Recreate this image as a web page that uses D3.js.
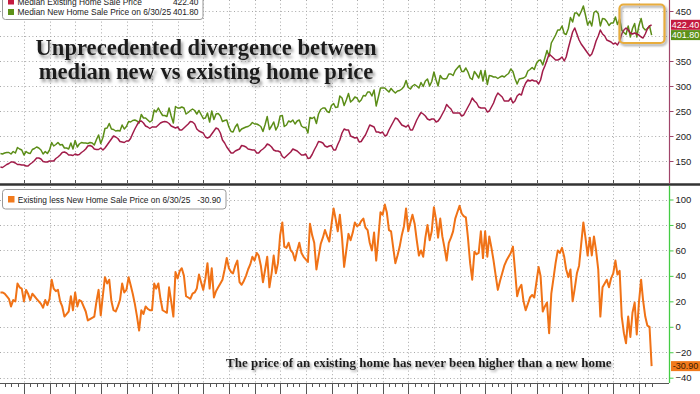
<!DOCTYPE html>
<html><head><meta charset="utf-8">
<script src="https://cdn.jsdelivr.net/npm/d3@7"></script>
<style>
html,body{margin:0;padding:0;background:#fff;}
svg{display:block;}
</style></head><body>
<svg id="c" width="700" height="394"></svg>
<script>
// Monthly, month-end, Jan 2000 .. Jun 2025 (thousands of USD)
const existingPrice = [
138,137,140,143,145,148,148,146,143,143,142,142,
140,140,144,147,151,156,156,154,149,148,148,150,
150,150,155,158,162,167,168,166,162,162,161,164,
162,163,167,170,174,180,181,179,174,173,173,176,
172,176,182,188,194,200,198,195,189,188,187,190,
190,195,205,214,222,229,230,226,220,218,215,218,
218,218,222,226,228,229,228,225,220,218,216,218,
212,212,216,220,224,229,228,224,214,210,208,206,
198,196,198,204,210,216,214,206,192,186,178,172,
166,166,170,172,174,181,180,178,174,173,172,172,
166,166,171,174,178,184,182,178,172,170,170,168,
159,156,160,164,168,174,172,170,166,162,162,164,
155,156,163,172,180,189,188,186,180,178,180,181,
172,172,183,192,206,214,212,212,200,198,196,197,
188,189,196,202,212,222,220,218,208,208,206,208,
200,202,212,220,228,236,234,228,222,220,218,222,
212,212,222,232,240,247,244,240,234,232,234,234,
228,230,236,244,252,263,258,254,246,246,246,246,
240,242,250,258,266,276,270,266,258,256,256,256,
248,250,258,266,278,286,282,278,270,270,270,276,
266,270,280,284,282,296,306,312,310,312,310,310,
304,312,330,340,352,364,360,356,352,352,354,358,
350,358,376,392,408,416,404,392,384,378,372,366,
360,364,376,390,400,412,404,400,392,390,388,384,
386,382,390,404,412,416,412,406,404,406,404,402,
398,396,404,414,420,422.4
];
const newPrice = [
165,164,166,167,167,164,169,166,177,174,172,162,
169,166,165,173,175,178,176,172,164,169,165,172,
187,180,183,187,182,183,176,176,174,186,174,191,
178,184,187,186,186,185,187,186,182,193,202,185,
197,215,216,225,214,213,210,211,210,222,214,219,
229,228,231,232,230,226,243,236,236,232,228,231,
252,248,256,248,241,241,239,256,240,226,259,256,
256,258,256,244,247,251,254,251,244,251,243,235,
236,246,228,250,233,244,245,240,229,231,232,218,
209,208,218,224,209,214,216,218,219,222,227,224,
224,222,219,209,223,239,213,220,228,212,220,240,
241,219,222,230,228,232,224,230,232,220,217,217,
206,237,235,238,225,244,253,256,256,249,247,261,
265,257,258,280,276,261,272,285,268,272,278,276,
268,272,281,280,288,288,280,292,260,278,296,296,
296,292,288,295,290,286,290,291,294,299,311,297,
294,300,303,300,296,307,299,310,314,300,309,328,
312,300,321,315,314,315,324,324,321,331,336,341,
329,329,336,328,316,313,329,323,316,331,310,331,
303,321,320,318,318,315,318,320,318,322,325,334,
329,315,304,314,315,316,319,330,333,337,333,345,
351,352,342,356,371,359,386,394,402,412,412,420,
405,403,415,437,428,446,446,440,449,460,442,422,
430,420,447,450,445,420,435,434,429,421,426,426,
438,423,434,412,407,403,420,398,415,425,398,421,
435,417,412,415,420,401.8
];
const spreadPrice = [
27,27,26,24,22,16,21,20,34,31,30,20,
29,26,21,26,24,22,20,18,15,21,17,22,
37,30,28,29,20,16,8,10,12,24,13,27,
16,21,20,16,12,5,6,7,8,20,29,9,
25,39,34,37,20,13,12,16,21,34,27,29,
39,33,26,18,8,-3,13,10,16,14,13,13,
34,30,34,22,13,12,11,31,20,8,43,38,
44,46,40,24,23,22,26,27,30,41,35,29,
38,50,30,46,23,28,31,34,37,45,54,46,
43,42,48,52,35,33,36,40,45,49,55,52,
58,56,48,35,45,55,31,42,56,42,50,72,
82,63,62,66,60,58,52,60,66,58,55,53,
51,81,72,66,45,55,65,70,76,71,67,80,
93,85,75,88,70,47,60,73,68,74,82,79,
80,83,85,78,76,66,60,74,52,70,90,88,
96,90,76,75,62,50,56,63,72,79,93,75,
82,88,81,68,56,60,55,70,80,68,75,94,
84,70,85,71,62,52,66,70,75,85,90,95,
89,87,86,70,50,37,59,57,58,75,54,75,
55,71,62,52,40,29,36,42,48,52,55,58,
63,45,24,30,33,20,13,18,23,25,23,35,
47,40,12,16,19,-5,26,38,50,60,58,62,
55,45,39,45,20,30,42,48,65,82,70,56,
70,56,71,60,45,8,31,34,37,31,38,42,
52,41,44,8,-5,-13,8,-8,11,19,-6,19,
37,21,8,1,0,-30.9
];
const topGridValues = [150,200,250,300,350,400,450];
const topTickLabels = [150,200,250,300,350,450];
const bottomTicks = [-40,-20,0,20,40,60,80,100];
const legendTopNames = ["Median Existing Home Sale Price","Median New Home Sale Price on 6/30/25"];
const legendTopValues = ["422.40","401.80"];
const legendBottomName = "Existing less New Home Sale Price on 6/30/25";
const legendBottomValue = "-30.90";
const titleLines = ["Unprecedented divergence between","median new vs existing home price"];
const noteText = "The price of an existing home has never been higher than a new home";

const C = {red:"#a11c49", green:"#5b8d17", orange:"#f07216",
           redBox:"#c41a3f", greenBox:"#5d9118", orangeBox:"#f27a1c",
           grid:"#a8a8a8", text:"#222"};

const svg = d3.select("#c");
const dates = existingPrice.map((_, i) => new Date(2000, i + 1, 0));
const x = d3.scaleTime().domain([new Date(2001,0,1), new Date(2025,0,1)]).range([24, 639]);
const yTop = d3.scaleLinear().domain([150,450]).range([161,11]);
const yBot = d3.scaleLinear().domain([-40,100]).range([377.7,199.5]);
const AX = 669;

const defs = svg.append("defs");
const f = defs.append("filter").attr("id","sh").attr("x","-10%").attr("y","-30%").attr("width","120%").attr("height","170%");
f.append("feDropShadow").attr("dx",2).attr("dy",3).attr("stdDeviation",1.6).attr("flood-color","#777").attr("flood-opacity",0.75);
const f2 = defs.append("filter").attr("id","sh2").attr("x","-10%").attr("y","-40%").attr("width","120%").attr("height","200%");
f2.append("feDropShadow").attr("dx",1.5).attr("dy",2).attr("stdDeviation",1.2).attr("flood-color","#777").attr("flood-opacity",0.7);
defs.append("clipPath").attr("id","clipTop").append("rect").attr("x",0).attr("y",0).attr("width",AX).attr("height",183);
defs.append("clipPath").attr("id","clipBot").append("rect").attr("x",0).attr("y",186).attr("width",AX).attr("height",197);

// grid
const years = d3.timeYear.range(new Date(2001,0,1), new Date(2025,0,2));
const g = svg.append("g").attr("stroke",C.grid).attr("stroke-width",1).attr("stroke-dasharray","1,2.6");
years.forEach(d => {
  const xx = Math.round(x(d)) + 0.5;
  g.append("line").attr("x1",xx).attr("x2",xx).attr("y1",0).attr("y2",183);
  g.append("line").attr("x1",xx).attr("x2",xx).attr("y1",187).attr("y2",383);
});
topGridValues.forEach(v => { const yy = Math.round(yTop(v))+0.5;
  g.append("line").attr("x1",0).attr("x2",AX).attr("y1",yy).attr("y2",yy); });
bottomTicks.forEach(v => { const yy = Math.round(yBot(v))+0.5;
  g.append("line").attr("x1",0).attr("x2",AX).attr("y1",yy).attr("y2",yy); });

// lines
const lineTop = (arr) => d3.line().x((d,i)=>x(dates[i])).y(d=>yTop(d))(arr);
const lineBot = d3.line().x((d,i)=>x(dates[i])).y(d=>yBot(d));
const gt = svg.append("g").attr("clip-path","url(#clipTop)");
gt.append("path").attr("d", lineTop(newPrice)).attr("fill","none").attr("stroke",C.green).attr("stroke-width",1.5).attr("stroke-linejoin","round");
gt.append("path").attr("d", lineTop(existingPrice)).attr("fill","none").attr("stroke",C.red).attr("stroke-width",1.5).attr("stroke-linejoin","round");
svg.append("g").attr("clip-path","url(#clipBot)").append("path").attr("d", lineBot(spreadPrice))
  .attr("fill","none").attr("stroke",C.orange).attr("stroke-width",2).attr("stroke-linejoin","round");

// separators and x ticks
svg.append("line").attr("x1",0).attr("x2",700).attr("y1",184.5).attr("y2",184.5).attr("stroke","#333").attr("stroke-width",2.4);
svg.append("line").attr("x1",0).attr("x2",AX).attr("y1",383.5).attr("y2",383.5).attr("stroke","#555").attr("stroke-width",1);
const quarters = d3.timeMonth.every(3).range(new Date(2000,0,1), new Date(2025,6,2));
quarters.forEach(d => {
  const xx = Math.round(x(d)) + 0.5;
  const major = d.getMonth() === 0;
  if (xx < 0) return;
  svg.append("line").attr("x1",xx).attr("x2",xx).attr("y1",384).attr("y2", major ? 394 : 387).attr("stroke","#555");
  if (major) svg.append("line").attr("x1",xx).attr("x2",xx).attr("y1",180).attr("y2",183).attr("stroke","#555");
});

// right axes
svg.append("line").attr("x1",AX+0.5).attr("x2",AX+0.5).attr("y1",0).attr("y2",183.5).attr("stroke","#a0456a").attr("stroke-width",1.2);
svg.append("line").attr("x1",AX+0.5).attr("x2",AX+0.5).attr("y1",186).attr("y2",383).attr("stroke","#44cc44").attr("stroke-width",1.3);
const axT = svg.append("g").attr("transform",`translate(${AX+0.5},0)`)
  .call(d3.axisRight(yTop).tickValues(topTickLabels).tickSize(4).tickPadding(2).tickSizeOuter(0).tickFormat(d3.format("d")));
axT.select(".domain").remove();
axT.selectAll("line").attr("stroke","#a0456a");
const axB = svg.append("g").attr("transform",`translate(${AX+0.5},0)`)
  .call(d3.axisRight(yBot).tickValues(bottomTicks).tickSize(4).tickPadding(2).tickSizeOuter(0).tickFormat(d3.format("d")));
axB.select(".domain").remove();
axB.selectAll("line").attr("stroke","#44cc44");
svg.selectAll(".tick text").attr("font-family","Liberation Sans, Arial, sans-serif").attr("font-size",9.5).attr("fill",C.text);

// value boxes
function valueBox(yv, txt, fill, tcol){
  const gb = svg.append("g");
  gb.append("rect").attr("x",AX+2).attr("y",yv-5).attr("width",29).attr("height",10).attr("fill",fill);
  gb.append("text").attr("x",AX+16.5).attr("y",yv+3.3).attr("text-anchor","middle")
    .attr("font-family","Liberation Sans, Arial, sans-serif").attr("font-size",9).attr("fill",tcol).text(txt);
}
valueBox(yTop(existingPrice[existingPrice.length-1]), legendTopValues[0], C.redBox, "#fff");
valueBox(yTop(newPrice[newPrice.length-1]), legendTopValues[1], C.greenBox, "#fff");
valueBox(yBot(spreadPrice[spreadPrice.length-1]), legendBottomValue, C.orangeBox, "#3a1a00");

// highlight box
svg.append("rect").attr("x",619.5).attr("y",4.5).attr("width",45).attr("height",38.5).attr("rx",4)
  .attr("fill","none").attr("stroke","#e8ad3e").attr("stroke-width",2.2).attr("filter","url(#sh2)");

// legends
const lf = "Liberation Sans, Arial, sans-serif";
svg.append("rect").attr("x",2.5).attr("y",-11.5).attr("width",200.5).attr("height",31).attr("rx",3)
  .attr("fill","#fff").attr("stroke","#999");
[[C.redBox,-1.5,4.6],[C.greenBox,9,15.1]].forEach((r,i)=>{
  svg.append("rect").attr("x",8).attr("y",r[1]).attr("width",6).attr("height",6).attr("fill",r[0]);
  svg.append("text").attr("x",17.5).attr("y",r[2]).attr("font-family",lf).attr("font-size",8.4).attr("fill",C.text).text(legendTopNames[i]);
  svg.append("text").attr("x",198.5).attr("y",r[2]).attr("text-anchor","end").attr("font-family",lf).attr("font-size",8.4).attr("fill",C.text).text(legendTopValues[i]);
});
svg.append("rect").attr("x",2.5).attr("y",189.5).attr("width",223.5).attr("height",19.5).attr("rx",3)
  .attr("fill","#fff").attr("stroke","#999");
svg.append("rect").attr("x",8).attr("y",196).attr("width",6.5).attr("height",6.5).attr("fill",C.orangeBox);
svg.append("text").attr("x",17.7).attr("y",202.6).attr("font-family",lf).attr("font-size",8.4).attr("fill",C.text).text(legendBottomName);
svg.append("text").attr("x",221).attr("y",202.6).attr("text-anchor","end").attr("font-family",lf).attr("font-size",8.4).attr("fill",C.text).text(legendBottomValue);

// title and note
const tf = "Liberation Serif, Times New Roman, serif";
titleLines.forEach((t,i)=>{
  svg.append("text").attr("x",206).attr("y",54.5 + i*24).attr("text-anchor","middle")
    .attr("font-family",tf).attr("font-weight","bold").attr("font-size",22.6).attr("fill","#1b1b1b")
    .attr("filter","url(#sh)").text(t);
});
svg.append("text").attr("x",226).attr("y",366.5).attr("font-family",tf).attr("font-weight","bold")
  .attr("font-size",13).attr("fill","#1b1b1b").attr("filter","url(#sh2)").text(noteText);
</script>
</body></html>
